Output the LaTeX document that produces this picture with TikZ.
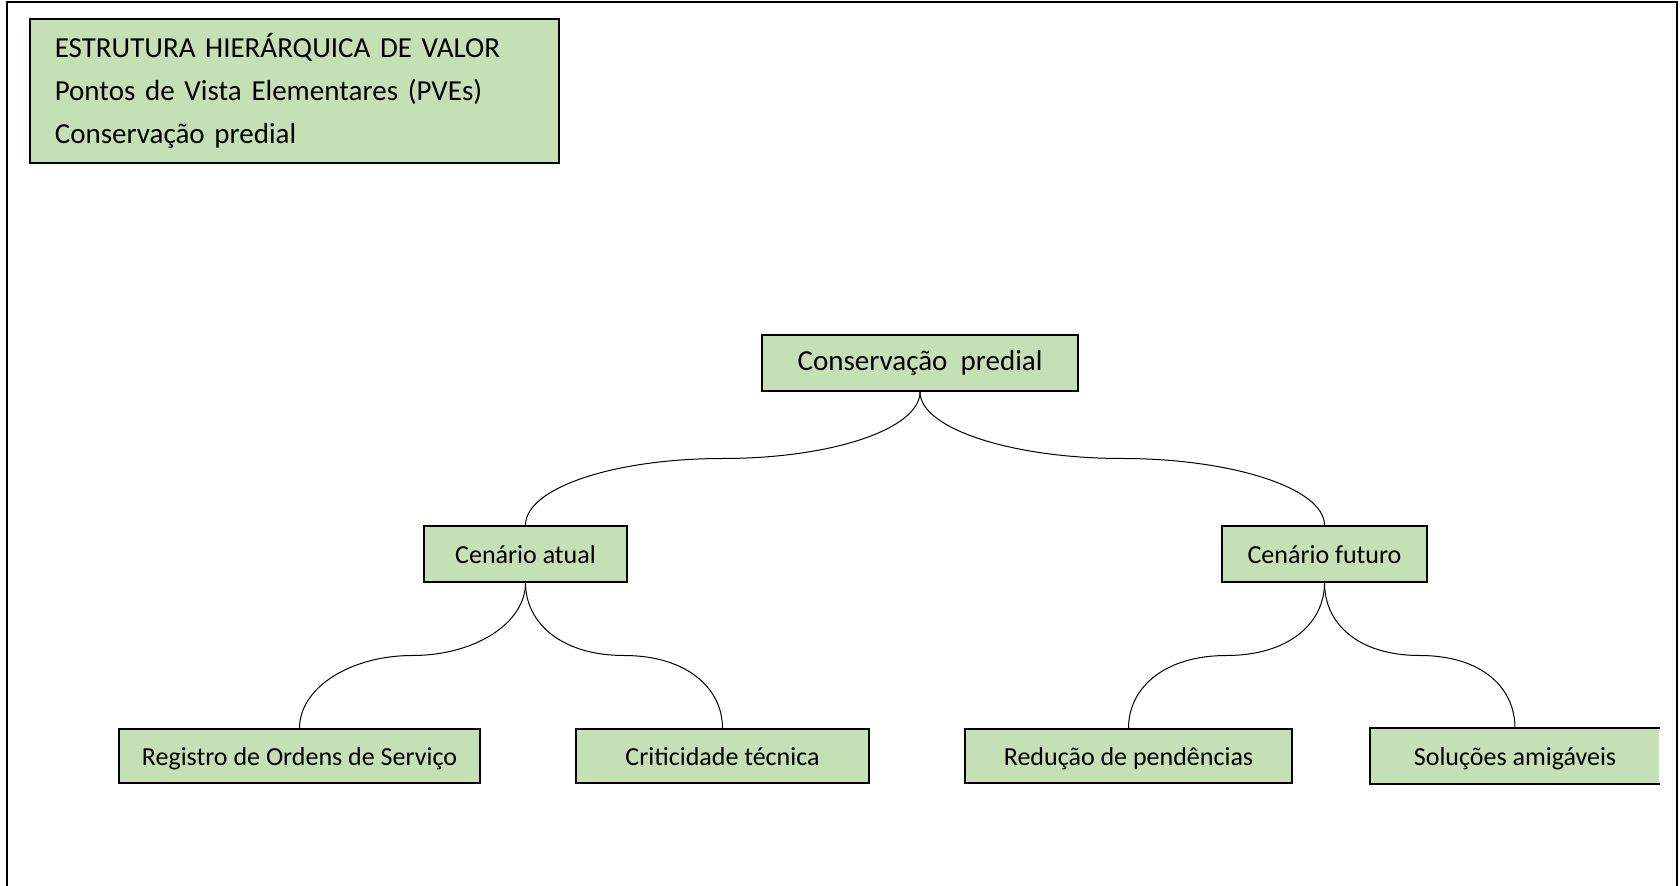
\documentclass[tikz,border=0pt]{standalone}
\usepackage{fontspec}
\setmainfont{Carlito}
\usetikzlibrary{calc}
\definecolor{pvegreen}{RGB}{197,224,180}
\tikzstyle{pve}=[draw,fill=pvegreen,line width=0.8pt,inner sep=0pt,minimum height=28pt,
                 text height=12.4pt,text depth=3.2pt,font=\fontsize{13}{15}\selectfont]
\tikzstyle{edge} = [draw,line width=0.5pt,-]
% pulls of the quarter bends, vertical and horizontal
\def\vup{18.6pt}\def\hup{54.4pt}
\def\vlo{20.3pt}\def\hlo{31pt}

\begin{document}
\begin{tikzpicture}[x=0.5pt,y=-0.5pt]
            \useasboundingbox (0,0) rectangle (1680,886);
            \draw[line width=1.2pt] (7,886) -- (7,2) -- (1677,2) -- (1677,886);

            \node[pve,anchor=north west,minimum width=264.5pt,minimum height=72pt,
                  inner xsep=12.5pt,text width=239.5pt,align=left,text height=,text depth=,
                  font=\fontsize{14.5}{21.5}\selectfont] (titulo) at (29,18)
                 {ESTRUTURA HIERÁRQUICA DE VALOR\\Pontos de Vista Elementares (PVEs)\\Conservação predial};

            \node[pve,minimum width=158pt,text height=10.7pt,text depth=3.6pt,
                  font=\fontsize{14.5}{17}\selectfont] (raiz) at (920,363) {Conservação\ \ predial};
            \node[pve,minimum width=101.5pt] (atual) at (525.5,554) {Cenário atual};
            \node[pve,minimum width=102.5pt] (futuro) at (1324.5,554) {Cenário futuro};
            \node[pve,minimum width=180.5pt,minimum height=27pt] (registro) at (299.5,756) {Registro de Ordens de Serviço};
            \node[pve,minimum width=146.5pt,minimum height=27pt] (critica) at (722.5,756) {Criticidade técnica};
            \node[pve,minimum width=163.5pt,minimum height=27pt] (reducao) at (1128.5,756) {Redução de pendências};
            \node[pve,draw=none,minimum width=144pt,minimum height=27pt] (solucoes) at (1515,756) {Soluções amigáveis};
            \draw[line width=0.8pt] (solucoes.north east) -- (solucoes.north west) -- (solucoes.south west) -- (solucoes.south east);

            \coordinate (m1) at ($(raiz.south)!0.5!(atual.north)$);
            \coordinate (m2) at ($(raiz.south)!0.5!(futuro.north)$);
            \coordinate (m3) at ($(atual.south)!0.5!(registro.north)$);
            \coordinate (m4) at ($(atual.south)!0.5!(critica.north)$);
            \coordinate (m5) at ($(futuro.south)!0.5!(reducao.north)$);
            \coordinate (m6) at ($(futuro.south)!0.5!(solucoes.north)$);

            \path[edge] (raiz.south) to[out=-90,in=0,out distance=\vup,in distance=\hup] (m1)
                        to[out=180,in=90,out distance=\hup,in distance=\vup] (atual.north);
            \path[edge] (raiz.south) to[out=-90,in=180,out distance=\vup,in distance=\hup] (m2)
                        to[out=0,in=90,out distance=\hup,in distance=\vup] (futuro.north);
            \path[edge] (atual.south) to[out=-90,in=0,out distance=\vlo,in distance=\hlo] (m3)
                        to[out=180,in=90,out distance=\hlo,in distance=\vlo] (registro.north);
            \path[edge] (atual.south) to[out=-90,in=180,out distance=\vlo,in distance=\hlo] (m4)
                        to[out=0,in=90,out distance=\hlo,in distance=\vlo] (critica.north);
            \path[edge] (futuro.south) to[out=-90,in=0,out distance=\vlo,in distance=\hlo] (m5)
                        to[out=180,in=90,out distance=\hlo,in distance=\vlo] (reducao.north);
            \path[edge] (futuro.south) to[out=-90,in=180,out distance=\vlo,in distance=\hlo] (m6)
                        to[out=0,in=90,out distance=\hlo,in distance=\vlo] (solucoes.north);
        \end{tikzpicture}
\end{document}
